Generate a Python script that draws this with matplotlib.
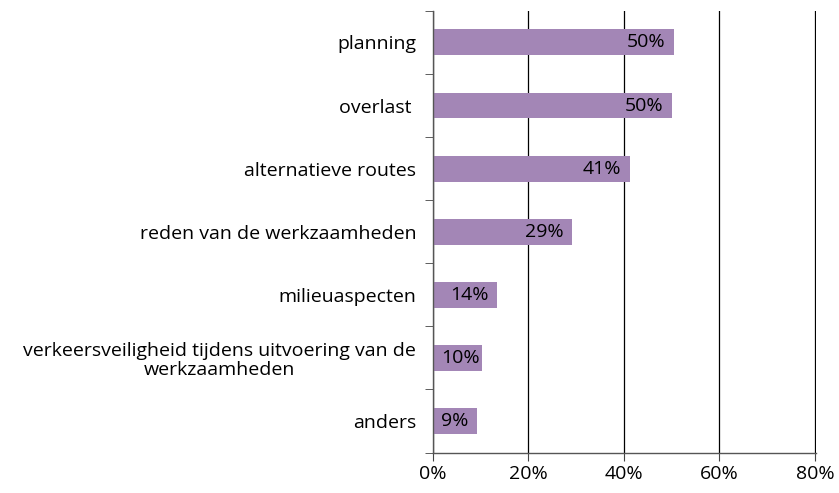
import matplotlib
matplotlib.use('Agg')
import matplotlib.pyplot as plt
import numpy as np

plt.rcParams['font.family'] = ['Open Sans', 'DejaVu Sans']

categories = ['planning', 'overlast ', 'alternatieve routes', 'reden van de werkzaamheden',
              'milieuaspecten', 'verkeersveiligheid tijdens uitvoering van de\nwerkzaamheden',
              'anders']
values = [50.4, 50.0, 41.2, 29.1, 13.5, 10.2, 9.3]
labels = ['50%', '50%', '41%', '29%', '14%', '10%', '9%']
xticks = [0, 20, 40, 60, 80]

fig = plt.figure(figsize=(8.39, 4.93), dpi=100)
ax = fig.add_axes([0.516, 0.082, 0.4565, 0.896])

n = len(categories)
pos = np.arange(n)[::-1]
bars = ax.barh(pos, values, height=0.41, color='#a386b6', zorder=2)

# labels at the inside end; short bars get them from the axis instead
for b, lab in zip(bars, labels):
    yc = b.get_y() + b.get_height() / 2
    if b.get_width() < 12:
        ax.annotate(lab, (0, yc), xytext=(6, 0), textcoords='offset points',
                    ha='left', va='center', fontsize=14, zorder=3)
    else:
        ax.annotate(lab, (b.get_width(), yc), xytext=(-6, 0), textcoords='offset points',
                    ha='right', va='center', fontsize=14, zorder=3)

ax.set_xlim(0, 80.2)
ax.set_ylim(-0.5, n - 0.5)
ax.set_xticks(xticks)
ax.set_xticklabels([f'{v}%' for v in xticks], fontsize=14)
ax.xaxis.grid(True, color='black', linewidth=0.9, zorder=0)

ax.set_yticks(pos)
ax.set_yticklabels(categories, fontsize=14, multialignment='center', linespacing=1.05)
ax.set_yticks(np.arange(n + 1) - 0.5, minor=True)
ax.tick_params(axis='y', which='major', length=0, pad=12)
ax.tick_params(axis='y', which='minor', length=6, direction='out', color='#444444')
ax.tick_params(axis='x', length=6, direction='out', pad=3, color='#444444')

for s in ['top', 'right']:
    ax.spines[s].set_visible(False)
for s in ['left', 'bottom']:
    ax.spines[s].set_color('#555555')
    ax.spines[s].set_linewidth(1.0)

fig.savefig('out.png', dpi=100)
